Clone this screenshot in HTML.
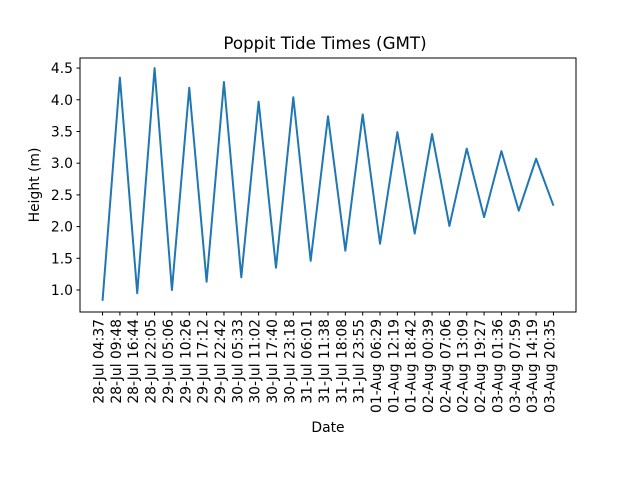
<!DOCTYPE html>
<html><head><meta charset="utf-8"><style>
body{margin:0;background:#fff}
svg{display:block;font-family:"DejaVu Sans","Liberation Sans",sans-serif}
</style></head><body>
<svg id="c" width="640" height="480" viewBox="0 0 640 480">
<rect width="640" height="480" fill="#fff"/>
<text x="325" y="49" font-size="16.7" text-anchor="middle">Poppit Tide Times (GMT)</text>
<g id="plot"></g>
<rect x="80" y="58" width="496" height="254" fill="none" stroke="#000" stroke-width="1"/>
<text x="328" y="432" font-size="13.9" text-anchor="middle">Date</text>
<text transform="translate(39,185) rotate(-90)" font-size="13.9" text-anchor="middle">Height (m)</text>
</svg>
<script>
const labels=["28-Jul 04:37","28-Jul 09:48","28-Jul 16:44","28-Jul 22:05","29-Jul 05:06","29-Jul 10:26","29-Jul 17:12","29-Jul 22:42","30-Jul 05:33","30-Jul 11:02","30-Jul 17:40","30-Jul 23:18","31-Jul 06:01","31-Jul 11:38","31-Jul 18:08","31-Jul 23:55","01-Aug 06:29","01-Aug 12:19","01-Aug 18:42","02-Aug 00:39","02-Aug 07:06","02-Aug 13:09","02-Aug 19:27","03-Aug 01:36","03-Aug 07:59","03-Aug 14:19","03-Aug 20:35"];
const heights=[0.83,4.35,0.95,4.50,1.00,4.19,1.13,4.28,1.20,3.97,1.35,4.04,1.46,3.74,1.62,3.77,1.73,3.49,1.89,3.46,2.01,3.23,2.15,3.19,2.25,3.07,2.33];
const yTicks=[1.0,1.5,2.0,2.5,3.0,3.5,4.0,4.5];
const L=80,R=576,T=58,B=312,ymin=0.653,ymax=4.659;
const n=labels.length,pad=(n-1)*0.05;
const xs=i=>L+(i+pad)/(n-1+2*pad)*(R-L);
const ys=v=>B-(v-ymin)/(ymax-ymin)*(B-T);
const NS="http://www.w3.org/2000/svg",g=document.getElementById("plot");
function mk(t,a){const e=document.createElementNS(NS,t);for(const k in a)e.setAttribute(k,a[k]);g.appendChild(e);return e;}
yTicks.forEach(v=>{
 const y=ys(v);
 const tk=mk("line",{x1:L-3.5,x2:L,y1:y,y2:y,stroke:"#000"});
 
 
 const t=mk("text",{x:L-7,y:y+5,"font-size":"13.9","text-anchor":"end"});
 t.textContent=v.toFixed(1);
 
 
});
labels.forEach((s,i)=>{
 const x=xs(i);
 const tk=mk("line",{x1:x,x2:x,y1:B,y2:B+3.5,stroke:"#000"});
 
 
 const t=mk("text",{transform:`translate(${x+1},${B+7}) rotate(-90)`,"font-size":"13.9","text-anchor":"end"});
 t.textContent=s;
 
 
});
const p=mk("polyline",{points:heights.map((v,i)=>xs(i)+","+ys(v)).join(" "),fill:"none",stroke:"#1f77b4","stroke-width":"2","stroke-linejoin":"round"});


</script>
</body></html>
